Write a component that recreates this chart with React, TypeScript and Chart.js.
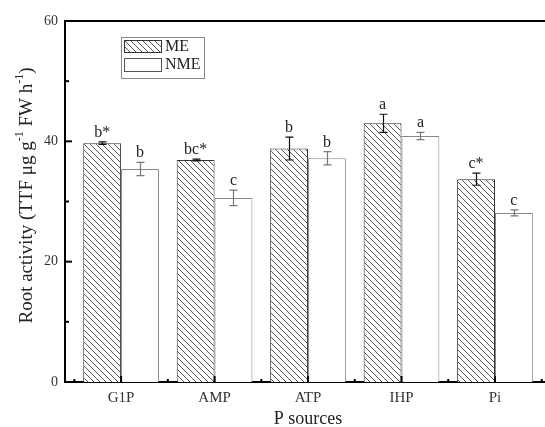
import React, { useEffect, useRef } from "react";
import { Chart, registerables } from "chart.js";

Chart.register(...registerables);

const categories = ["G1P", "AMP", "ATP", "IHP", "Pi"];
const seriesNames = ["ME", "NME"];
const meValues = [39.7, 36.9, 38.8, 43.0, 33.7];
const meErrors = [0.2, 0.15, 1.9, 1.5, 1.0];
const nmeValues = [35.4, 30.6, 37.2, 40.9, 28.1];
const nmeErrors = [1.1, 1.3, 1.1, 0.6, 0.5];
const meLetters = ["b*", "bc*", "b", "a", "c*"];
const nmeLetters = ["b", "c", "b", "a", "c"];
const yTickValues = [0, 20, 40, 60];
const yMinorValues = [10, 30, 50];
const yAxisTitle = ["Root activity (TTF μg g", "-1", " FW h", "-1", ")"];
const xAxisTitle = "P sources";

const FONT = '"Liberation Serif", "Times New Roman", serif';

function makeHatch(): CanvasPattern | string {
  const s = 6;
  const c = document.createElement("canvas");
  c.width = s;
  c.height = s;
  const g = c.getContext("2d");
  if (!g) return "#ddd";
  g.fillStyle = "#fff";
  g.fillRect(0, 0, s, s);
  g.strokeStyle = "#444";
  g.lineWidth = 0.9;
  g.beginPath();
  g.moveTo(-1, -1);
  g.lineTo(s + 1, s + 1);
  g.moveTo(-1, s - 1);
  g.lineTo(1, s + 1);
  g.moveTo(s - 1, -1);
  g.lineTo(s + 1, 1);
  g.stroke();
  return g.createPattern(c, "repeat") || "#ddd";
}

export default function App() {
  const ref = useRef<HTMLCanvasElement | null>(null);

  useEffect(() => {
    const canvas = ref.current;
    if (!canvas) return;
    const hatch = makeHatch();

    const decor = {
      id: "decor",
      afterDatasetsDraw(chart: any) {
        const ctx = chart.ctx as CanvasRenderingContext2D;
        const { left, right, top, bottom } = chart.chartArea;
        const ys = chart.scales.y;
        const xs = chart.scales.x;
        ctx.save();

        // error bars + letters
        const groups: [number[], number[], string[], string][] = [
          [meValues, meErrors, meLetters, "#111"],
          [nmeValues, nmeErrors, nmeLetters, "#777"],
        ];
        groups.forEach(([vals, errs, letters, color], d) => {
          const meta = chart.getDatasetMeta(d);
          meta.data.forEach((bar: any, i: number) => {
            const x = Math.round(bar.x) + 0.5;
            const yHi = ys.getPixelForValue(vals[i] + errs[i]);
            const yLo = ys.getPixelForValue(vals[i] - errs[i]);
            ctx.strokeStyle = color;
            ctx.lineWidth = 1.2;
            ctx.beginPath();
            ctx.moveTo(x, yHi);
            ctx.lineTo(x, yLo);
            ctx.moveTo(x - 4, yHi);
            ctx.lineTo(x + 4, yHi);
            ctx.moveTo(x - 4, yLo);
            ctx.lineTo(x + 4, yLo);
            ctx.stroke();
            ctx.fillStyle = "#222";
            ctx.font = `16px ${FONT}`;
            ctx.textAlign = "center";
            ctx.textBaseline = "alphabetic";
            ctx.fillText(letters[i], bar.x, yHi - 5);
          });
        });

        // top frame line
        ctx.strokeStyle = "#000";
        ctx.lineWidth = 2;
        ctx.beginPath();
        ctx.moveTo(left - 1, top);
        ctx.lineTo(right, top);
        ctx.stroke();

        // inward ticks, y
        ctx.lineWidth = 2;
        [...yTickValues, ...yMinorValues].forEach((v) => {
          const major = yTickValues.includes(v);
          const y = ys.getPixelForValue(v);
          ctx.beginPath();
          ctx.moveTo(left, y);
          ctx.lineTo(left + (major ? 7 : 4), y);
          ctx.stroke();
        });
        // inward ticks, x
        categories.forEach((_, i) => {
          const xm = xs.getPixelForValue(i + 1);
          ctx.beginPath();
          ctx.moveTo(xm, bottom);
          ctx.lineTo(xm, bottom - 6);
          ctx.stroke();
          const xn = xs.getPixelForValue(i + 0.5);
          ctx.beginPath();
          ctx.moveTo(xn, bottom);
          ctx.lineTo(xn, bottom - 3);
          ctx.stroke();
        });
        const xLast = xs.getPixelForValue(categories.length + 0.5);
        ctx.beginPath();
        ctx.moveTo(xLast, bottom);
        ctx.lineTo(xLast, bottom - 3);
        ctx.stroke();

        // legend
        const lx = left + 56;
        const ly = top + 16;
        ctx.lineWidth = 1;
        ctx.strokeStyle = "#888";
        ctx.strokeRect(lx + 0.5, ly + 0.5, 83, 41);
        ctx.fillStyle = hatch as any;
        ctx.fillRect(lx + 3, ly + 3, 37, 12);
        ctx.strokeStyle = "#333";
        ctx.strokeRect(lx + 3.5, ly + 3.5, 37, 12);
        ctx.fillStyle = "#fff";
        ctx.fillRect(lx + 3, ly + 21, 37, 13);
        ctx.strokeStyle = "#555";
        ctx.strokeRect(lx + 3.5, ly + 21.5, 37, 13);
        ctx.fillStyle = "#222";
        ctx.font = `16px ${FONT}`;
        ctx.textAlign = "left";
        ctx.textBaseline = "middle";
        ctx.fillText(seriesNames[0], lx + 44, ly + 10);
        ctx.fillText(seriesNames[1], lx + 44, ly + 28);

        // x axis title
        ctx.fillStyle = "#222";
        ctx.font = `18px ${FONT}`;
        ctx.textAlign = "center";
        ctx.textBaseline = "alphabetic";
        ctx.fillText(xAxisTitle, (left + xs.getPixelForValue(5.6)) / 2, 424);

        // y axis title (rotated, with superscripts)
        const main = `19px ${FONT}`;
        const sup = `12px ${FONT}`;
        const widths = yAxisTitle.map((t, k) => {
          ctx.font = k % 2 === 1 ? sup : main;
          return ctx.measureText(t).width;
        });
        const total = widths.reduce((a, b) => a + b, 0);
        ctx.translate(32, (top + bottom) / 2 - 6);
        ctx.rotate(-Math.PI / 2);
        let cx = -total / 2;
        ctx.textAlign = "left";
        yAxisTitle.forEach((t, k) => {
          ctx.font = k % 2 === 1 ? sup : main;
          ctx.fillText(t, cx, k % 2 === 1 ? -9 : 0);
          cx += widths[k];
        });

        ctx.restore();
      },
    };

    const chart = new Chart(canvas, {
      type: "bar",
      data: {
        datasets: [
          {
            label: seriesNames[0],
            data: categories.map((_, i) => ({ x: i + 1, y: meValues[i] })),
            backgroundColor: hatch as any,
            borderColor: "#333",
            borderWidth: 1,
            borderSkipped: "bottom",
            categoryPercentage: 0.81,
            barPercentage: 1,
          },
          {
            label: seriesNames[1],
            data: categories.map((_, i) => ({ x: i + 1, y: nmeValues[i] })),
            backgroundColor: "#fff",
            borderColor: "#888",
            borderWidth: 1,
            borderSkipped: "bottom",
            categoryPercentage: 0.81,
            barPercentage: 1,
          },
        ],
      },
      options: {
        responsive: false,
        animation: false,
        devicePixelRatio: 1,
        layout: { padding: { top: 21, left: 0, right: 0, bottom: 0 } },
        plugins: { legend: { display: false }, tooltip: { enabled: false } },
        scales: {
          x: {
            type: "linear",
            min: 0.4,
            max: 5.535,
            offset: false,
            grid: { display: false, drawTicks: false, tickLength: 0 },
            border: { display: true, color: "#000", width: 2 },
            afterBuildTicks: (s: any) => {
              s.ticks = categories.map((_, i) => ({ value: i + 1 }));
            },
            afterFit: (s: any) => {
              s.height = 45;
            },
            ticks: {
              autoSkip: false,
              maxRotation: 0,
              padding: 7,
              color: "#333",
              font: { family: FONT, size: 15 },
              callback: (v: any) => categories[Math.round(Number(v)) - 1] ?? "",
            },
          },
          y: {
            min: 0,
            max: 60,
            grid: { display: false, drawTicks: false, tickLength: 0 },
            border: { display: true, color: "#000", width: 2 },
            afterBuildTicks: (s: any) => {
              s.ticks = yTickValues.map((v) => ({ value: v }));
            },
            afterFit: (s: any) => {
              s.width = 65;
            },
            ticks: {
              padding: 7,
              color: "#333",
              font: { family: FONT, size: 14 },
            },
          },
        },
      } as any,
      plugins: [decor],
    });

    return () => chart.destroy();
  }, []);

  return (
    <div style={{ position: "absolute", left: 0, top: 0, width: 545, height: 427, overflow: "hidden", background: "#fff" }}>
      <canvas ref={ref} width={545} height={427} style={{ width: 545, height: 427, display: "block" }} />
    </div>
  );
}
